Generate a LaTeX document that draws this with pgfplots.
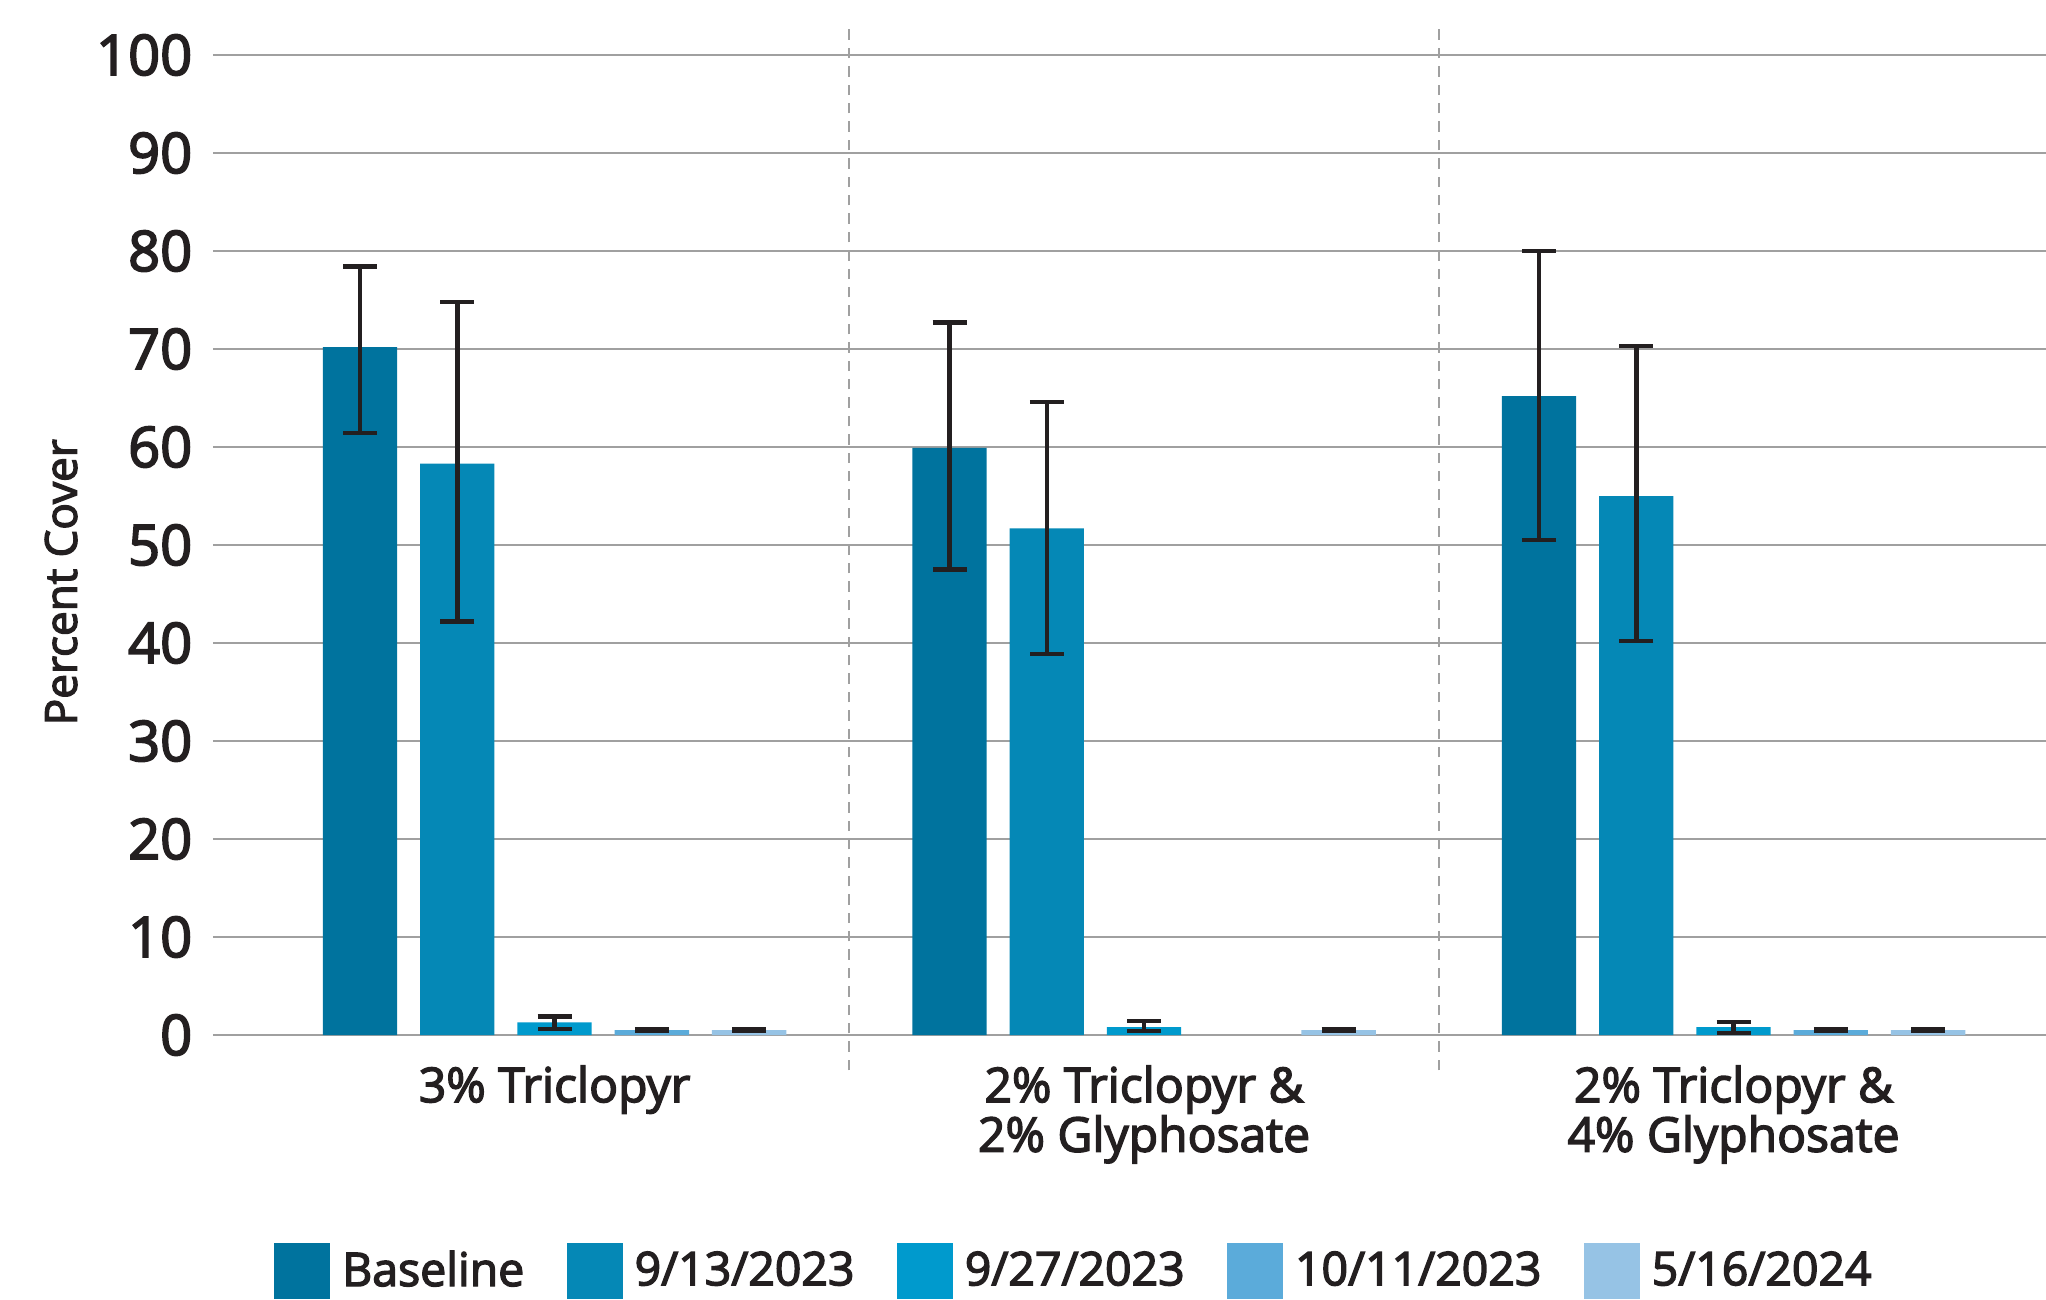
\documentclass[border=0pt]{standalone}
\usepackage{pgfplots}
\pgfplotsset{compat=1.18}
\usepackage{fontspec}
\setmainfont{Open Sans}
\newfontfamily\sbf{Open Sans}[FakeBold=3]
\definecolor{cBase}{HTML}{00739E}
\definecolor{cA}{HTML}{0588B6}
\definecolor{cB}{HTML}{009ACD}
\definecolor{cC}{HTML}{5BABDA}
\definecolor{cD}{HTML}{96C3E5}
\definecolor{txt}{HTML}{231F20}
\definecolor{gridc}{HTML}{A0A0A0}
\begin{document}
\begin{tikzpicture}
\path[use as bounding box] (-53.25pt,-66pt) rectangle (458.25pt,258.75pt);
\begin{axis}[
  scale only axis,
  width=458.25pt, height=245pt,
  xmin=-0.5795, xmax=2.530,
  ymin=0, ymax=100,
  ytick={0,10,...,100},
  xtick={0,1,2},
  xticklabels={3\% Triclopyr,{2\% Triclopyr \&\\2\% Glyphosate},{2\% Triclopyr \&\\4\% Glyphosate}},
  xticklabel style={align=center, inner sep=0pt, yshift=-3.2pt, text=txt,
    font=\sbf\fontsize{12}{12.4}\selectfont},
  yticklabel style={inner sep=0pt, xshift=-5pt, text=txt,
    font=\sbf\fontsize{14}{14}\selectfont},
  /pgf/number format/assume math mode=true,
  axis line style={draw=none},
  major tick style={draw=none},
  ymajorgrids,
  major grid style={gridc, line width=0.65pt},
  ylabel={Percent Cover},
  ylabel style={at={(axis description cs:-0.0829,0.462)}, anchor=center, text=txt,
    font=\sbf\fontsize{11}{11}\selectfont},
  clip=false,
  ybar, bar width=0.126,
  legend columns=5,
  legend style={draw=none, fill=none, inner sep=0pt, at={(0.4713,-0.2412)}, anchor=center,
    font=\sbf\fontsize{11.6}{11.6}\selectfont, text=txt,
    /tikz/every odd column/.append style={column sep=1pt},
    /tikz/every even column/.append style={column sep=8.6pt}},
  legend image code/.code={\fill[#1] (0pt,-7pt) rectangle (14pt,7pt);},
  error bars/y dir=both, error bars/y explicit,
  error bars/error bar style={line width=1.1pt, txt},
  error bars/error mark options={rotate=90, mark size=4.25pt, line width=1.1pt, txt},
]
\addplot[fill=cBase, draw=none, bar shift=0pt] coordinates {
  (-0.33,70.2) += (0,8.2) -= (0,8.8)
  (0.67,59.9) += (0,12.8) -= (0,12.4)
  (1.67,65.2) += (0,14.8) -= (0,14.7)
};
\addlegendentry{Baseline}
\addplot[fill=cA, draw=none, bar shift=0pt] coordinates {
  (-0.165,58.3) += (0,16.5) -= (0,16.1)
  (0.835,51.7) += (0,12.9) -= (0,12.8)
  (1.835,55.0) += (0,15.3) -= (0,14.8)
};
\addlegendentry{9/13/2023}
\addplot[fill=cB, draw=none, bar shift=0pt] coordinates {
  (0,1.3) += (0,0.6) -= (0,0.7)
  (1,0.8) += (0,0.6) -= (0,0.4)
  (2,0.8) += (0,0.5) -= (0,0.6)
};
\addlegendentry{9/27/2023}
\addplot[fill=cC, draw=none, bar shift=0pt] coordinates {
  (0.165,0.5) += (0,0.05) -= (0,0.05)
  (2.165,0.5) += (0,0.05) -= (0,0.05)
};
\addlegendentry{10/11/2023}
\addplot[fill=cD, draw=none, bar shift=0pt] coordinates {
  (0.33,0.5) += (0,0.05) -= (0,0.05)
  (1.33,0.5) += (0,0.05) -= (0,0.05)
  (2.33,0.5) += (0,0.05) -= (0,0.05)
};
\addlegendentry{5/16/2024}
\draw[gridc, line width=0.5pt, dash pattern=on 2.6pt off 2pt] (axis cs:0.5,-3.6) -- (axis cs:0.5,103.2);
\draw[gridc, line width=0.5pt, dash pattern=on 2.6pt off 2pt] (axis cs:1.5,-3.6) -- (axis cs:1.5,103.2);
\end{axis}
\end{tikzpicture}
\end{document}
